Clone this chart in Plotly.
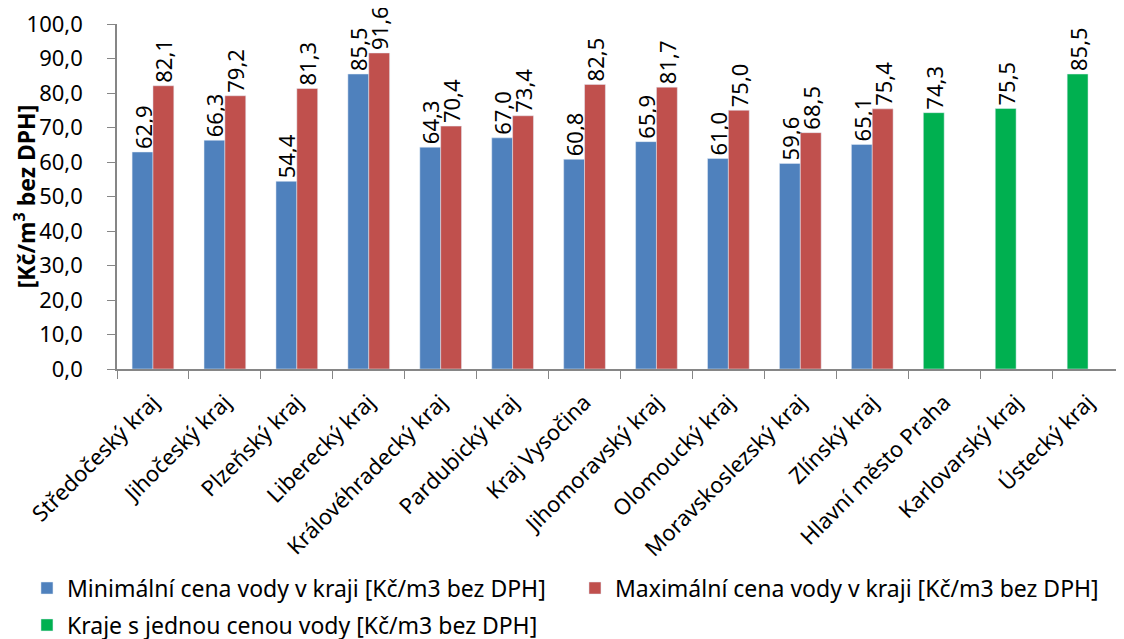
import plotly.graph_objects as go

categories = ["Středočeský kraj", "Jihočeský kraj", "Plzeňský kraj", "Liberecký kraj",
              "Královéhradecký kraj", "Pardubický kraj", "Kraj Vysočina", "Jihomoravský kraj",
              "Olomoucký kraj", "Moravskoslezský kraj", "Zlínský kraj", "Hlavní město Praha",
              "Karlovarský kraj", "Ústecký kraj"]
min_price = [62.9, 66.3, 54.4, 85.5, 64.3, 67.0, 60.8, 65.9, 61.0, 59.6, 65.1, None, None, None]
max_price = [82.1, 79.2, 81.3, 91.6, 70.4, 73.4, 82.5, 81.7, 75.0, 68.5, 75.4, None, None, None]
single_price = [None] * 11 + [74.3, 75.5, 85.5]

names = ["Minimální cena vody v kraji [Kč/m3 bez DPH]",
         "Maximální cena vody v kraji [Kč/m3 bez DPH]",
         "Kraje s jednou cenou vody [Kč/m3 bez DPH]"]
colors = ["#4F81BD", "#C0504D", "#00B050"]

FONT = "Noto Sans, sans-serif"

fig = go.Figure()
for vals, name, col, grp, leg in [(min_price, names[0], colors[0], "a", "legend"),
                                  (max_price, names[1], colors[1], "b", "legend2"),
                                  (single_price, names[2], colors[2], "a", "legend3")]:
    fig.add_trace(go.Bar(
        x=categories, y=vals, name=name, marker_color=col, offsetgroup=grp,
        texttemplate="%{y:.1f}", textposition="outside", textangle=-90,
        constraintext="none", legend=leg,
        textfont=dict(size=22, color="black", family=FONT), cliponaxis=False,
    ))

leg_common = dict(orientation="h", xanchor="left", yanchor="middle",
                  font=dict(size=23), itemwidth=30, bgcolor="rgba(0,0,0,0)")
fig.update_layout(
    width=1124, height=639,
    margin=dict(l=109, r=8, t=16, b=278, autoexpand=False),
    paper_bgcolor="white", plot_bgcolor="white",
    separators=", ",
    barmode="group", bargap=0.42, bargroupgap=0,
    font=dict(family=FONT, size=22, color="black"),
    showlegend=True,
    legend=dict(x=-0.0894, y=-0.635, **leg_common),
    legend2=dict(x=0.4548, y=-0.635, **leg_common),
    legend3=dict(x=-0.0894, y=-0.742, **leg_common),
)
fig.update_xaxes(type="category", tickangle=-45, showline=True, linecolor="#868686",
                 linewidth=1.5, ticks="outside", tickson="boundaries", ticklen=8,
                 tickcolor="#868686", showgrid=False, tickfont=dict(size=22),
                 automargin=False, ticklabelstandoff=10)
fig.update_yaxes(range=[0, 100], dtick=10, tickformat=".1f", showline=True,
                 linecolor="#868686", linewidth=1.5, ticks="outside", ticklen=8,
                 tickcolor="#868686", showgrid=False, zeroline=False,
                 tickfont=dict(size=22), automargin=False, ticklabelstandoff=20,
                 ticklabeloverflow="allow",
                 title=dict(text="<b>[Kč/m<sup>3</sup> bez DPH]</b>", font=dict(size=23),
                            standoff=4))

fig.write_html("out.html")
